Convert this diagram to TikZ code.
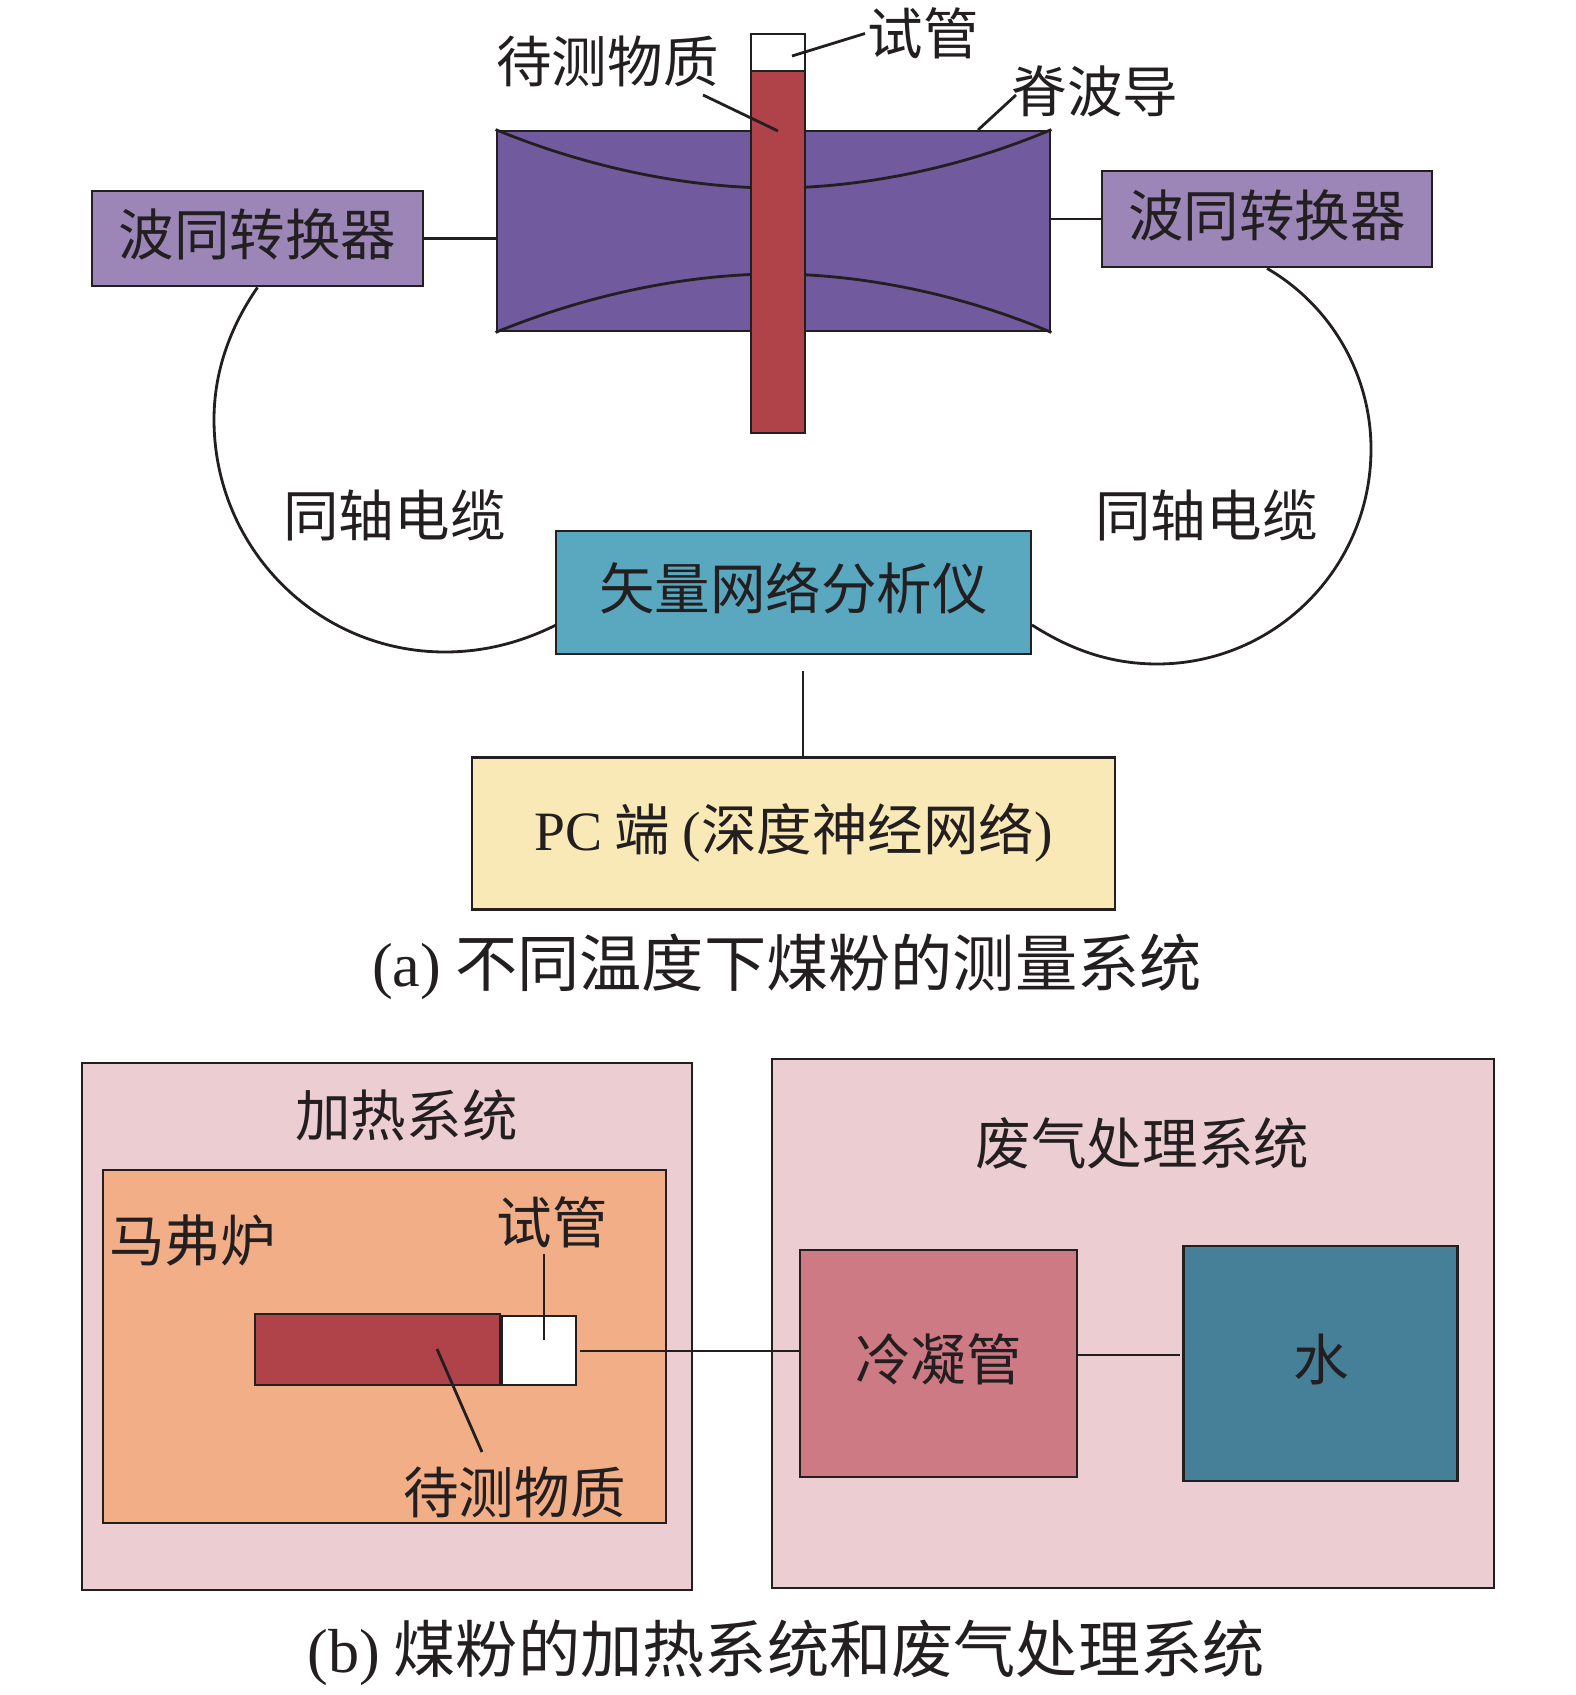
\documentclass[tikz,border=0pt]{standalone}
\usepackage{xcolor}
\usepackage{fontspec}
\setmainfont{Noto Sans CJK SC}
\newfontfamily\latinfont{Liberation Serif}
\usepackage{tikz}
\usetikzlibrary{positioning}
\definecolor{mydark}{RGB}{35,31,32}
\definecolor{wgpurple}{RGB}{113,90,157}
\definecolor{lightpurple}{RGB}{156,134,183}
\definecolor{myred}{RGB}{176,66,74}
\definecolor{myteal}{RGB}{90,168,191}
\definecolor{myyellow}{RGB}{249,233,182}
\definecolor{mypink}{RGB}{236,206,210}
\definecolor{myorange}{RGB}{242,174,135}
\definecolor{myrose}{RGB}{205,122,133}
\definecolor{mywater}{RGB}{70,127,152}
\tikzset{
  block/.style={rectangle, draw=mydark, text=mydark, align=center,
    font=\fontsize{31.6}{36}\selectfont, line width=1.6pt, inner sep=0pt},
  textblock/.style={block, text height=27pt, text depth=7.6pt},
  label/.style={text=mydark, font=\fontsize{31.6}{36}\selectfont, inner sep=0pt},
  caption/.style={text=mydark, font=\fontsize{35.4}{40}\selectfont, inner sep=0pt},
  line/.style={line width=1.6pt, color=mydark}
}
\begin{document}
\begin{tikzpicture}
  \useasboundingbox (0,0) rectangle (31.5,-33.9);

  % Waveguide and ridges
  \node[block, fill=wgpurple, minimum width=11.06cm, minimum height=4cm] (wg) at (15.47,-4.62) {};
  \draw[line] (wg.north west) .. controls (12.0,-3.45) and (14.0,-3.76) .. (15.5,-3.76)
    .. controls (17.0,-3.76) and (19.0,-3.45) .. (wg.north east);
  \draw[line] (wg.south west) .. controls (12.0,-5.79) and (14.0,-5.48) .. (15.5,-5.48)
    .. controls (17.0,-5.48) and (19.0,-5.79) .. (wg.south east);

  % Test tube
  \node[block, fill=myred, minimum width=1.08cm, minimum height=7.24cm] (tube) at (15.56,-5.04) {};
  \node[block, fill=white, minimum width=1.08cm, minimum height=0.74cm, above=-1.6pt of tube] (tubetop) {};

  % Converters
  \node[textblock, fill=lightpurple, minimum width=6.62cm, minimum height=1.9cm] (conL) at (5.15,-4.77) {波同转换器};
  \node[textblock, fill=lightpurple, minimum width=6.6cm, minimum height=1.92cm] (conR) at (25.34,-4.38) {波同转换器};

  % Analyzer and PC
  \node[textblock, fill=myteal, minimum width=9.5cm, minimum height=2.46cm] (vna) at (15.87,-11.85) {矢量网络分析仪};
  \node[textblock, fill=myyellow, minimum width=12.86cm, minimum height=3.04cm, below=2.02cm of vna] (pc) {{\latinfont PC} 端 {\latinfont (}深度神经网络{\latinfont )}};

  % Labels of part a
  \node[label] (sample1) at (12.15,-1.23) {待测物质};
  \node[label] (tubelabel1) at (18.46,-0.67) {试管};
  \node[label] (ridge) at (21.9,-1.82) {脊波导};
  \node[label] (coaxL) at (7.89,-10.31) {同轴电缆};
  \node[label] (coaxR) at (24.13,-10.31) {同轴电缆};
  \node[caption] (capa) at (15.74,-19.33) {{\latinfont (a)} 不同温度下煤粉的测量系统};

  % Free ends of part a
  \coordinate (vnaL) at (11.12,-12.5);
  \coordinate (vnaR) at (20.64,-12.5);
  \coordinate (vnagap) at (16.06,-13.42);
  \coordinate (s1a) at (14.06,-1.9);
  \coordinate (s1b) at (15.56,-2.62);
  \coordinate (t1a) at (15.84,-1.12);
  \coordinate (t1b) at (17.3,-0.67);
  \coordinate (r1a) at (19.56,-2.6);
  \coordinate (r1b) at (20.32,-1.9);

  % Connectors of part a
  \draw[line] (conL.east) -- (conL.east -| wg.west);
  \draw[line] (conR.west) -- (conR.west -| wg.east);
  \draw[line] (vnagap) -- (vnagap |- pc.north);
  \draw[line] (s1a) -- (s1b);
  \draw[line] (t1a) -- (t1b);
  \draw[line] (r1a) -- (r1b);
  \draw[line] (conL.south) .. controls (4.56,-6.6) and (4.28,-7.5) .. (4.28,-8.39)
    .. controls (4.28,-10.96) and (6.34,-13.04) .. (8.9,-13.04)
    .. controls (9.7,-13.04) and (10.44,-12.84) .. (vnaL);
  \draw[line] (conR.south) .. controls (26.62,-6.11) and (27.42,-7.49) .. (27.42,-8.98)
    .. controls (27.42,-11.36) and (25.5,-13.28) .. (23.14,-13.28)
    .. controls (22.16,-13.28) and (21.36,-12.96) .. (vnaR);

  % Heating system
  \node[block, fill=mypink, minimum width=12.2cm, minimum height=10.54cm] (heat) at (7.74,-26.53) {};
  \node[block, fill=myorange, minimum width=11.26cm, minimum height=7.06cm] (furnace) at (7.69,-26.93) {};
  \node[block, fill=white, minimum width=1.48cm, minimum height=1.38cm] (tube2) at (10.78,-27.01) {};
  \node[block, fill=myred, minimum width=4.9cm, minimum height=1.42cm] (sample2) at (7.55,-26.99) {};

  % Exhaust system
  \node[block, fill=mypink, minimum width=14.44cm, minimum height=10.58cm] (exhaust) at (22.66,-26.47) {};
  \node[textblock, fill=myrose, minimum width=5.54cm, minimum height=4.54cm] (cond) at (18.77,-27.27) {冷凝管};
  \node[textblock, fill=mywater, minimum width=5.48cm, minimum height=4.7cm, right=2.08cm of cond] (water) {水};

  % Labels of part b
  \node[label] (heatlabel) at (8.13,-22.31) {加热系统};
  \node[label] (exhaustlabel) at (22.85,-22.87) {废气处理系统};
  \node[label] (furnacelabel) at (3.85,-24.8) {马弗炉};
  \node[label] (tubelabel2) at (11.05,-24.45) {试管};
  \node[label] (samplelabel2) at (10.29,-29.84) {待测物质};
  \node[caption] (capb) at (15.72,-33.05) {{\latinfont (b)} 煤粉的加热系统和废气处理系统};

  % Free ends of part b
  \coordinate (t2a) at (10.88,-25.08);
  \coordinate (t2b) at (10.88,-26.8);
  \coordinate (s2a) at (8.74,-26.98);
  \coordinate (s2b) at (9.64,-29.04);
  \coordinate (pipe) at (11.6,-27.02);
  \coordinate (watergap) at (23.6,-27.1);

  % Connectors of part b
  \draw[line] (t2a) -- (t2b);
  \draw[line] (s2a) -- (s2b);
  \draw[line] (pipe) -- (pipe -| cond.west);
  \draw[line] (watergap -| cond.east) -- (watergap);
\end{tikzpicture}
\end{document}
